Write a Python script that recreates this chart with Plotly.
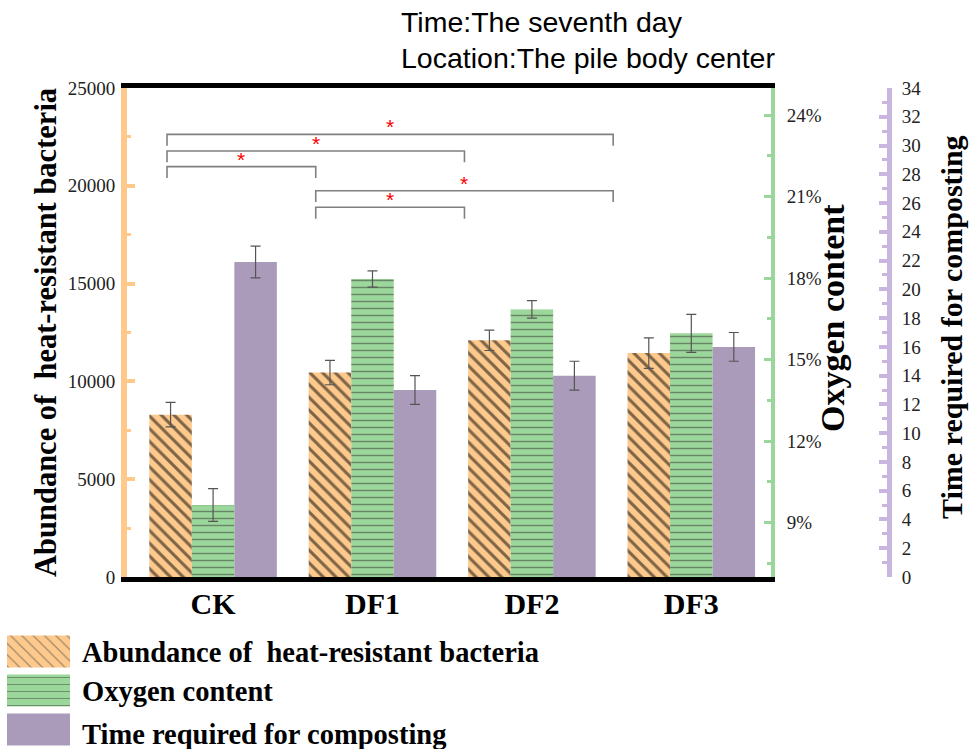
import plotly.graph_objects as go

# ---- data ----
categories = ["CK", "DF1", "DF2", "DF3"]
abundance = [8300, 10450, 12100, 11450]
abundance_err = [630, 620, 520, 780]
oxygen = [9.65, 17.97, 16.85, 15.97]          # %
oxygen_err = [0.6, 0.3, 0.32, 0.7]
compost_time = [21.9, 13.0, 14.0, 16.0]       # days
compost_time_err = [1.1, 1.0, 1.0, 1.0]

series_names = ["Abundance of  heat-resistant bacteria", "Oxygen content",
                "Time required for composting"]
oxygen_ticks = [9, 12, 15, 18, 21, 24]
oxygen_ticktext = [f"{v}%" for v in oxygen_ticks]

# significance pairs (category index a, category index b)
sig_pairs = [(0, 3), (0, 2), (0, 1), (1, 3), (1, 2)]

# ---- layout constants ----
W, H = 972, 749
ORANGE, GREEN, PURPLE = "#fdc98c", "#9bd69b", "#a99bb9"
ORANGE_AX, GREEN_AX, PURPLE_AX = "#ffc98b", "#9bd79b", "#c9b6de"
SERIF = "Liberation Serif, Times New Roman, serif"
SANS = "Liberation Sans, Arial, sans-serif"

PLOT_L, PLOT_R, PLOT_T, PLOT_B = 127, 771, 88, 577


def px(x):
    return x / W


def py(y):
    return 1 - y / H


BAR_W = 0.2667
offsets = [-0.4, -0.1333, 0.1333]

fig = go.Figure()

fig.add_trace(go.Bar(
    x=categories, y=abundance, name=series_names[0], yaxis="y",
    width=BAR_W, offset=offsets[0],
    marker=dict(color=ORANGE, line=dict(width=0),
                pattern=dict(shape="\\", fgcolor="black", bgcolor=ORANGE,
                             size=9, solidity=0.33)),
    error_y=dict(type="data", array=abundance_err, color="#555555",
                 thickness=1.2, width=5),
    showlegend=False,
))
fig.add_trace(go.Bar(
    x=categories, y=oxygen, name=series_names[1], yaxis="y2",
    width=BAR_W, offset=offsets[1],
    marker=dict(color=GREEN, line=dict(width=0),
                pattern=dict(shape="-", fgcolor="#333333", bgcolor=GREEN,
                             size=7, solidity=0.2)),
    error_y=dict(type="data", array=oxygen_err, color="#555555",
                 thickness=1.2, width=5),
    showlegend=False,
))
fig.add_trace(go.Bar(
    x=categories, y=compost_time, name=series_names[2], yaxis="y3",
    width=BAR_W, offset=offsets[2],
    marker=dict(color=PURPLE, line=dict(width=0)),
    error_y=dict(type="data", array=compost_time_err, color="#555555",
                 thickness=1.2, width=5),
    showlegend=False,
))

# legend swatches drawn as bars on a small hidden axis pair
swatch_rows = [0, 1, 2]
fig.add_trace(go.Bar(
    x=[1, 1, 1], y=swatch_rows, orientation="h", xaxis="x2", yaxis="y4",
    width=0.82,
    marker=dict(color=[ORANGE, GREEN, PURPLE], line=dict(width=0),
                pattern=dict(shape=["\\", "-", ""],
                             fgcolor=["#333333", "#3c3c3c", PURPLE],
                             bgcolor=[ORANGE, GREEN, PURPLE],
                             size=[8, 7, 8], solidity=[0.15, 0.15, 0.1])),
    showlegend=False, hoverinfo="skip",
))

# ---- significance brackets ----
BRACKET_X0, BRACKET_STEP = -0.289, 0.933
bracket_levels = [22630, 21780, 20980, 19750, 18900]
BRACKET_DROP = 580
shapes = []
annotations = []
for (a, b), lvl in zip(sig_pairs, bracket_levels):
    xa = BRACKET_X0 + a * BRACKET_STEP
    xb = BRACKET_X0 + b * BRACKET_STEP
    path = f"M {xa},{lvl - BRACKET_DROP} L {xa},{lvl} L {xb},{lvl} L {xb},{lvl - BRACKET_DROP}"
    shapes.append(dict(type="path", path=path, xref="x", yref="y",
                       line=dict(color="#808080", width=1.6)))
    annotations.append(dict(x=(xa + xb) / 2, y=lvl, xref="x", yref="y",
                            text="*", showarrow=False, yanchor="bottom",
                            yshift=-6,
                            font=dict(family=SANS, size=21, color="red")))

# ---- titles & legend text ----
annotations += [
    dict(x=px(399), y=py(22), xref="paper", yref="paper", xanchor="left",
         yanchor="middle", text="Time:The seventh day", showarrow=False,
         font=dict(family=SANS, size=28.5, color="black")),
    dict(x=px(399), y=py(58), xref="paper", yref="paper", xanchor="left",
         yanchor="middle", text="Location:The pile body center", showarrow=False,
         font=dict(family=SANS, size=28.5, color="black")),
    dict(x=px(46), y=py(333), xref="paper", yref="paper", textangle=-90,
         xanchor="center", yanchor="middle", showarrow=False,
         text="<b>Abundance of \u00a0heat-resistant bacteria</b>",
         font=dict(family=SERIF, size=30.5, color="black")),
    dict(x=px(832), y=py(318), xref="paper", yref="paper", textangle=-90,
         xanchor="center", yanchor="middle", showarrow=False,
         text="<b>Oxygen content</b>",
         font=dict(family=SERIF, size=34, color="black")),
    dict(x=px(951), y=py(327), xref="paper", yref="paper", textangle=-90,
         xanchor="center", yanchor="middle", showarrow=False,
         text="<b>Time required for composting</b>",
         font=dict(family=SERIF, size=30, color="black")),
]
legend_y = [652, 691, 734]
for name, ly in zip(series_names, legend_y):
    annotations.append(dict(x=px(80), y=py(ly), xref="paper", yref="paper",
                            xanchor="left", yanchor="middle", showarrow=False,
                            text="<b>" + name.replace("  ", " \u00a0") + "</b>",
                            font=dict(family=SERIF, size=28.5, color="black")))

fig.update_layout(
    width=W, height=H,
    margin=dict(l=0, r=0, t=0, b=0),
    paper_bgcolor="white", plot_bgcolor="white",
    barmode="overlay",
    showlegend=False,
    xaxis=dict(
        domain=[px(PLOT_L), px(PLOT_R)],
        type="category", range=[-0.54, 3.5],
        showline=True, linecolor="black", linewidth=5, mirror=True,
        ticks="", showgrid=False, zeroline=False,
        tickfont=dict(family=SERIF, size=30, color="black", weight="bold"),
        ticklabelstandoff=-4,
        anchor="y",
    ),
    yaxis=dict(
        domain=[py(PLOT_B), py(PLOT_T)],
        range=[0, 25000], dtick=5000, tickformat="d",
        showline=True, linecolor=ORANGE_AX, linewidth=6,
        ticks="inside", ticklen=8, tickwidth=4, tickcolor=ORANGE_AX,
        minor=dict(dtick=2500, ticks="inside", ticklen=4, tickwidth=3,
                   tickcolor=ORANGE_AX, showgrid=False),
        showgrid=False, zeroline=False,
        tickfont=dict(family=SERIF, size=19, color="#222222"),
        ticklabelstandoff=2,
        anchor="x", automargin=False,
    ),
    yaxis2=dict(
        overlaying="y", side="right", anchor="x",
        range=[7, 25], tickvals=oxygen_ticks, ticktext=oxygen_ticktext,
        showline=True, linecolor=GREEN_AX, linewidth=4,
        ticks="inside", ticklen=7, tickwidth=3, tickcolor=GREEN_AX,
        minor=dict(tickvals=[7.5, 10.5, 13.5, 16.5, 19.5, 22.5], ticks="inside",
                   ticklen=4, tickwidth=3, tickcolor=GREEN_AX, showgrid=False),
        showgrid=False, zeroline=False,
        tickfont=dict(family=SERIF, size=19, color="#222222"),
        ticklabelstandoff=8, automargin=False,
    ),
    yaxis3=dict(
        overlaying="y", side="right", anchor="free", position=px(889),
        range=[0, 34], dtick=2,
        showline=True, linecolor=PURPLE_AX, linewidth=5,
        ticks="inside", ticklen=8, tickwidth=4, tickcolor=PURPLE_AX,
        minor=dict(dtick=1, ticks="inside", ticklen=5, tickwidth=3,
                   tickcolor=PURPLE_AX, showgrid=False),
        showgrid=False, zeroline=False,
        tickfont=dict(family=SERIF, size=19, color="#222222"),
        ticklabelstandoff=6, automargin=False,
    ),
    xaxis2=dict(domain=[px(7), px(70)], range=[0, 1], visible=False,
                anchor="y4", fixedrange=True),
    yaxis4=dict(domain=[0, py(632)], range=[2.5, -0.5], visible=False,
                anchor="x2", fixedrange=True),
    shapes=shapes,
    annotations=annotations,
)

fig.write_html("out.html")
